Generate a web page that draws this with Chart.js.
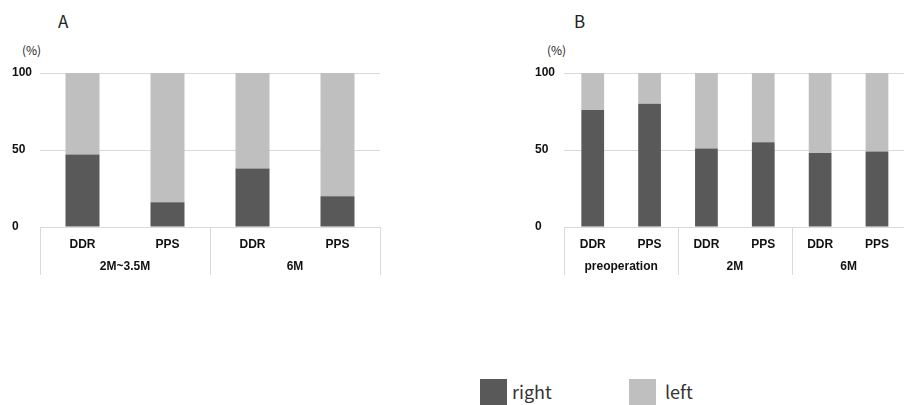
<!DOCTYPE html>
<html>
<head>
<meta charset="utf-8">
<script src="https://cdn.jsdelivr.net/npm/chart.js@4/dist/chart.umd.min.js"></script>
<style>
  html, body { margin: 0; padding: 0; background: #fff; }
  body { width: 904px; height: 405px; position: relative; overflow: hidden; }
  canvas { position: absolute; top: 0; }
  .txt { position: absolute; font-family: "Noto Sans CJK JP", "Noto Sans", sans-serif; color: #222; white-space: nowrap; line-height: 1; }
  .panel { font-size: 17px; top: 12px; }
  .unit { font-size: 12px; top: 44px; }
  .swatch { position: absolute; width: 27px; height: 27px; top: 379px; }
  .leg { font-size: 18px; top: 382px; color: #333; }
</style>
</head>
<body>
<div class="txt panel" style="left:58px">A</div>
<div class="txt panel" style="left:574px">B</div>
<div class="txt unit" style="left:22px">(%)</div>
<div class="txt unit" style="left:547px">(%)</div>

<canvas id="chartA" width="420" height="290" style="left:0"></canvas>
<canvas id="chartB" width="400" height="290" style="left:520px"></canvas>

<div class="swatch" style="left:480px; background:#595959"></div>
<div class="txt leg" style="left:512px">right</div>
<div class="swatch" style="left:629px; background:#bfbfbf"></div>
<div class="txt leg" style="left:665px">left</div>

<script>
// chart A
const groupsA = ["2M~3.5M", "6M"];
const catsA = ["DDR", "PPS", "DDR", "PPS"];
const rightA = [47, 16, 38, 20];
const leftA = [53, 84, 62, 80];

// chart B
const groupsB = ["preoperation", "2M", "6M"];
const catsB = ["DDR", "PPS", "DDR", "PPS", "DDR", "PPS"];
const rightB = [76, 80, 51, 55, 48, 49];
const leftB = [24, 20, 49, 45, 52, 51];

const yTicks = [0, 50, 100];

const DARK = "#595959";
const LIGHT = "#bfbfbf";
const GRID = "#d9d9d9";
const TICK_FONT = { family: "'Liberation Sans', Arial, sans-serif", size: 12, weight: "bold" };

// draws the group row under the category labels, with separators
const groupAxis = {
  id: "groupAxis",
  afterDraw(chart, args, opts) {
    const { ctx, chartArea, scales: { x } } = chart;
    const span = opts.span;
    const y0 = chartArea.bottom;
    ctx.save();
    ctx.strokeStyle = GRID;
    ctx.lineWidth = 1;
    for (let i = 0; i <= opts.groups.length; i++) {
      const px = Math.round(x.getPixelForValue(i * span - 0.5)) + 0.5;
      ctx.beginPath();
      ctx.moveTo(px, y0);
      ctx.lineTo(px, y0 + 48);
      ctx.stroke();
    }
    ctx.fillStyle = "#111";
    ctx.font = "bold 12px 'Liberation Sans', Arial, sans-serif";
    ctx.textAlign = "center";
    ctx.textBaseline = "middle";
    opts.groups.forEach((g, i) => {
      ctx.fillText(g, x.getPixelForValue(i * span + (span - 1) / 2), y0 + 40);
    });
    ctx.restore();
  }
};

function makeChart(id, cats, right, left, groups, pad, yWidth) {
  return new Chart(document.getElementById(id), {
    type: "bar",
    data: {
      labels: cats,
      datasets: [
        { label: "right", data: right, backgroundColor: DARK },
        { label: "left", data: left, backgroundColor: LIGHT }
      ]
    },
    plugins: [groupAxis],
    options: {
      responsive: false,
      animation: false,
      layout: { padding: pad },
      categoryPercentage: 1,
      barPercentage: 0.4,
      plugins: {
        legend: { display: false },
        tooltip: { enabled: false },
        groupAxis: { groups: groups, span: cats.length / groups.length }
      },
      scales: {
        x: {
          stacked: true,
          grid: { display: false },
          border: { display: false },
          ticks: { font: TICK_FONT, color: "#111", padding: 2 },
          afterFit: s => { s.height = 50; }
        },
        y: {
          stacked: true,
          min: 0,
          max: 100,
          afterBuildTicks: s => { s.ticks = yTicks.map(v => ({ value: v })); },
          grid: { color: GRID, drawTicks: false },
          border: { display: false },
          ticks: { font: TICK_FONT, color: "#111", crossAlign: "far", padding: 0 },
          afterFit: s => { s.width = yWidth; }
        }
      }
    }
  });
}

makeChart("chartA", catsA, rightA, leftA, groupsA,
  { left: 12, right: 40, top: 73, bottom: 13 }, 28);
makeChart("chartB", catsB, rightB, leftB, groupsB,
  { left: 15, right: 14.6, top: 73, bottom: 13 }, 29.3);
</script>
</body>
</html>
